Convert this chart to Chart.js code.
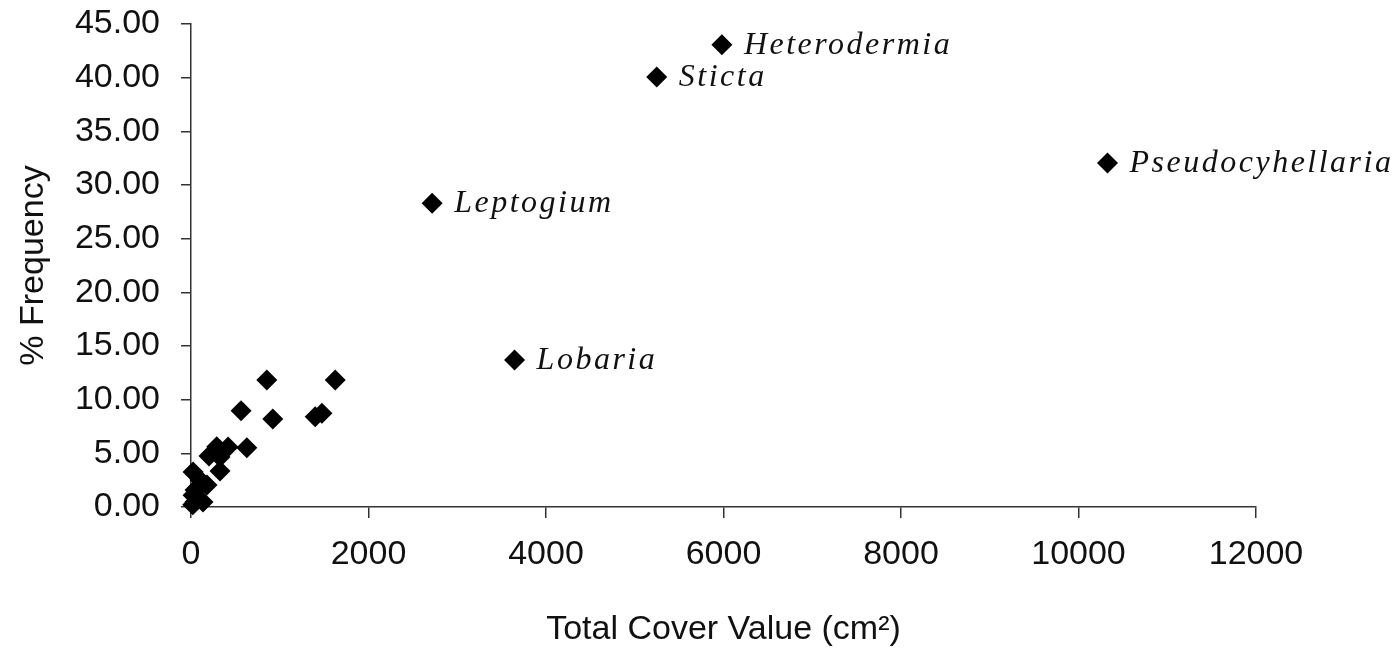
<!DOCTYPE html>
<html lang="en">
<head>
    <meta charset="UTF-8">
    <title>Cover vs Frequency</title>
    <script src="https://cdn.jsdelivr.net/npm/chart.js"></script>
    <style>
        html, body { margin: 0; padding: 0; background: #fff; }
        .chart-container { width: 1396px; height: 651px; position: relative; }
    </style>
</head>
<body>

<div class="chart-container">
    <canvas id="scatterChart"></canvas>
</div>

<script>
    // total cover value (cm2) for each genus
    var coverValues = [5982, 5248, 10327, 2717, 3646,
        854, 1625, 564, 922, 1399, 1475, 629,
        290, 418, 203, 327, 327, 23, 102, 180, 45, 23, 45, 135, 20];
    // % frequency
    var frequencyValues = [43.06, 40.07, 32.06, 28.30, 13.70,
        11.84, 11.84, 8.97, 8.20, 8.42, 8.73, 5.53,
        5.62, 5.59, 4.75, 4.66, 3.35, 3.26, 2.52, 2.05, 1.58, 1.10, 0.47, 0.47, 0.20];
    // names written next to some points
    var genusNames = ["Heterodermia", "Sticta", "Pseudocyhellaria", "Leptogium", "Lobaria"];

    var xTicks = [0, 2000, 4000, 6000, 8000, 10000, 12000];
    var yTicks = [0, 5, 10, 15, 20, 25, 30, 35, 40, 45];

    var points = coverValues.map(function(v, i) {
        return { x: v, y: frequencyValues[i] };
    });

    // draws the genus names to the right of the labelled points
    var genusLabels = {
        id: 'genusLabels',
        afterDatasetsDraw: function(chart) {
            var ctx = chart.ctx;
            var meta = chart.getDatasetMeta(0);
            ctx.save();
            ctx.font = 'italic 32px "Liberation Serif"';
            ctx.letterSpacing = '2.5px';
            ctx.fillStyle = '#111';
            ctx.textAlign = 'left';
            ctx.textBaseline = 'alphabetic';
            genusNames.forEach(function(name, i) {
                var el = meta.data[i];
                ctx.fillText(name, el.x + 22, el.y + 9);
            });
            ctx.restore();
        }
    };

    var axisFont = { family: '"Liberation Sans"', size: 34 };

    var ctx = document.getElementById('scatterChart').getContext('2d');
    var chart = new Chart(ctx, {
        type: 'scatter',
        data: {
            datasets: [{
                data: points,
                pointStyle: 'rectRot',
                pointRadius: 10.5,
                pointHoverRadius: 10.5,
                backgroundColor: '#000',
                borderColor: '#000',
                borderWidth: 0,
                clip: false
            }]
        },
        options: {
            responsive: true,
            maintainAspectRatio: false,
            animation: false,
            layout: { padding: { top: 24, right: 140, left: 0, bottom: 0 } },
            plugins: {
                legend: { display: false },
                tooltip: { enabled: false }
            },
            scales: {
                x: {
                    type: 'linear',
                    min: 0,
                    max: 12000,
                    afterBuildTicks: function(axis) {
                        axis.ticks = xTicks.map(function(v) { return { value: v }; });
                    },
                    afterFit: function(axis) {
                        axis.height = 144;
                        axis.paddingLeft = 0;
                        axis.paddingRight = 0;
                    },
                    grid: { drawOnChartArea: false, tickLength: 11, color: '#333', lineWidth: 1.5 },
                    border: { color: '#333', width: 1.5 },
                    ticks: {
                        font: axisFont,
                        color: '#111',
                        padding: 16,
                        maxRotation: 0,
                        callback: function(v) { return String(v); }
                    },
                    title: {
                        display: true,
                        text: 'Total Cover Value (cm\u00B2)',
                        font: axisFont,
                        color: '#111',
                        padding: { top: 0, bottom: 1 }
                    }
                },
                y: {
                    type: 'linear',
                    min: 0,
                    max: 45,
                    afterBuildTicks: function(axis) {
                        axis.ticks = yTicks.map(function(v) { return { value: v }; });
                    },
                    afterFit: function(axis) {
                        axis.width = 191;
                        axis.paddingTop = 0;
                        axis.paddingBottom = 0;
                    },
                    grid: { drawOnChartArea: false, tickLength: 10, color: '#333', lineWidth: 1.5 },
                    border: { color: '#333', width: 1.5 },
                    ticks: {
                        font: axisFont,
                        color: '#111',
                        padding: 21,
                        callback: function(v) { return v.toFixed(2); }
                    },
                    title: {
                        display: true,
                        text: '% Frequency',
                        font: axisFont,
                        color: '#111',
                        padding: { top: 13, bottom: 0 }
                    }
                }
            }
        },
        plugins: [genusLabels]
    });
</script>

</body>
</html>
